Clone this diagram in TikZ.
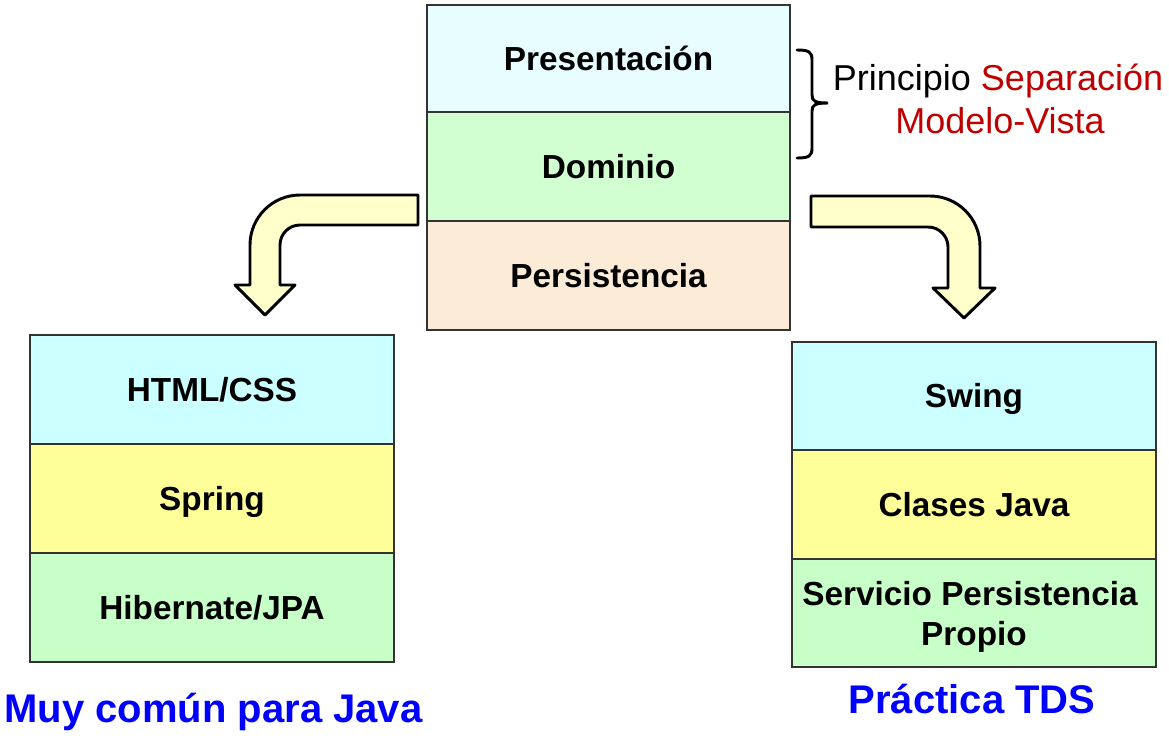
\documentclass[tikz,border=0pt]{standalone}
\usepackage{fontspec}
\setmainfont{Liberation Sans}
\definecolor{topcyan}{HTML}{E8FDFF}
\definecolor{topgreen}{HTML}{D2FFD2}
\definecolor{peach}{HTML}{FBEBD7}
\definecolor{lcyan}{HTML}{CCFFFF}
\definecolor{lyellow}{HTML}{FFFF99}
\definecolor{lgreen}{HTML}{C8FFC8}
\definecolor{arrowfill}{HTML}{FFFFCC}
\definecolor{darkred}{HTML}{C00000}
\definecolor{pureblue}{HTML}{0000FF}
\definecolor{edge}{HTML}{333333}
\begin{document}
\begin{tikzpicture}[x=0.75pt,y=-0.75pt,
  cell/.style={draw=edge,line width=1.1pt,minimum width=272.25pt,minimum height=81pt,inner sep=0pt,
    font=\fontsize{25}{30}\selectfont\bfseries,text height=17.9pt,text depth=0pt},
  lbl/.style={inner sep=0pt,font=\fontsize{25}{30}\selectfont\bfseries,anchor=base},
  blocky/.style={draw=black,line width=2.2pt,fill=arrowfill,line join=round},
  brc/.style={draw=black,line width=2.2pt,line cap=round},
  bluetxt/.style={inner sep=0pt,anchor=base,text=pureblue,font=\fontsize{30}{36}\selectfont\bfseries},
  note/.style={inner sep=0pt,anchor=base,font=\fontsize{27}{32}\selectfont}]
\useasboundingbox (0,0) rectangle (1169,739);
% top stack
\node[cell,fill=topcyan,minimum width=272.25pt,minimum height=80.25pt] (pres) at (608.5,58.5) {Presentación};
\node[cell,fill=topgreen,minimum width=272.25pt,minimum height=81.75pt] (dom) at (608.5,166.5) {Dominio};
\node[cell,fill=peach,minimum width=272.25pt,minimum height=81.75pt] (pers) at (608.5,275.5) {Persistencia};
% left stack
\node[cell,fill=lcyan,minimum width=273pt,minimum height=81.75pt] (html) at (212,389.5) {HTML/CSS};
\node[cell,fill=lyellow,minimum width=273pt,minimum height=81.75pt] (spring) at (212,498.5) {Spring};
\node[cell,fill=lgreen,minimum width=273pt,minimum height=81.75pt] (hib) at (212,607.5) {Hibernate/JPA};
% right stack
\node[cell,fill=lcyan,minimum width=273pt,minimum height=81pt] (swing) at (974,396) {Swing};
\node[cell,fill=lyellow,minimum width=273pt,minimum height=81.75pt] (clases) at (974,504.5) {Clases Java};
\node[cell,fill=lgreen,minimum width=273pt,minimum height=81pt] (serv) at (974,613) {};
\node[lbl] (serv1) at (970,605) {Servicio Persistencia};
\node[lbl] (serv2) at (974,645) {Propio};
% brace
\draw[brc] (797,50) .. controls (809,50) and (812,52) .. (812,60) -- (812,95)
  .. controls (812,101) and (815,103) .. (828,103)
  .. controls (815,103) and (812,105) .. (812,111) -- (812,148)
  .. controls (812,156) and (809,158) .. (797,158);
\node[note] (princ) at (998,90) {Principio \textcolor{darkred}{Separación}};
\node[note,text=darkred] (mv) at (1000,133) {Modelo-Vista};
% left bent arrow
\draw[blocky] (418,195) -- (300,195) .. controls (272.4,195) and (250,217.4) .. (250,245)
  -- (250,285) -- (235,285) -- (265,315) -- (295,285) -- (280,285) -- (280,245)
  .. controls (280,233.95) and (288.95,225) .. (300,225) -- (418,225) -- cycle;
% right bent arrow
\draw[blocky] (811,196) -- (930,196) .. controls (957.6,196) and (980,218.4) .. (980,246)
  -- (980,288) -- (995,288) -- (964,318) -- (933,288) -- (948,288) -- (948,247)
  .. controls (948,235.95) and (939.05,227) .. (928,227) -- (811,227) -- cycle;
% captions
\node[bluetxt] (muy) at (213.5,722) {Muy común para Java};
\node[bluetxt] (tds) at (972,713) {Práctica TDS};
\end{tikzpicture}
\end{document}
